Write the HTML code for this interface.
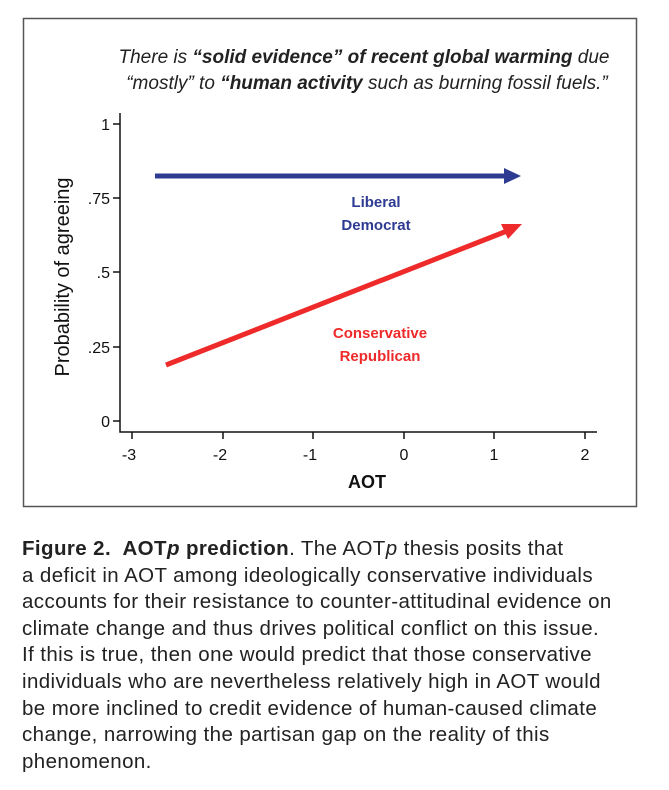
<!DOCTYPE html><html><head><style>
body{margin:0;width:669px;height:790px;background:#fff;overflow:hidden;font-family:"Liberation Sans",sans-serif}
.cap{position:absolute;left:22px;top:536px;font-size:20.5px;letter-spacing:0.4px;line-height:26.6px;color:#222;font-family:"Liberation Sans",sans-serif;white-space:nowrap}
</style></head><body>
<svg width="669" height="530" style="position:absolute;left:0;top:0" font-family="Liberation Sans, sans-serif">
<rect x="23.5" y="18.5" width="613" height="488" fill="none" stroke="#555" stroke-width="1.5"/>
<text x="364" y="63" text-anchor="middle" font-size="19" font-style="italic" fill="#222">There is <tspan font-weight="bold">“solid evidence” of recent global warming</tspan> due</text>
<text x="367" y="89" text-anchor="middle" font-size="19" font-style="italic" fill="#222">“mostly” to <tspan font-weight="bold">“human activity</tspan> such as burning fossil fuels.”</text>
<g stroke="#111" stroke-width="1.5" fill="none">
<path d="M120 113V432H597"/>
<path d="M113 124H120M113 198H120M113 272H120M113 347H120M113 421H120"/>
<path d="M132 432V439M223 432V439M313 432V439M404 432V439M494 432V439M585 432V439"/>
</g>
<g font-size="16" fill="#111" text-anchor="end">
<text x="110" y="130">1</text><text x="110" y="204">.75</text><text x="110" y="278">.5</text><text x="110" y="353">.25</text><text x="110" y="427">0</text>
</g>
<g font-size="16" fill="#111" text-anchor="middle">
<text x="129" y="460">-3</text><text x="220" y="460">-2</text><text x="310" y="460">-1</text><text x="404" y="460">0</text><text x="494" y="460">1</text><text x="585" y="460">2</text>
</g>
<text x="367" y="488" text-anchor="middle" font-size="18" font-weight="bold" fill="#111">AOT</text>
<text transform="translate(69,277) rotate(-90)" text-anchor="middle" font-size="20" fill="#111">Probability of agreeing</text>
<line x1="155" y1="176" x2="506" y2="176" stroke="#2e3b93" stroke-width="5"/>
<polygon points="504,168 521,176 504,184" fill="#2e3b93"/>
<line x1="166" y1="365" x2="507" y2="231" stroke="#ee2a2a" stroke-width="5"/>
<polygon points="501,224 522,224 508,239" fill="#ee2a2a"/>
<g font-size="15" font-weight="bold" text-anchor="middle">
<text x="376" y="207" fill="#2e3b93">Liberal</text><text x="376" y="230" fill="#2e3b93">Democrat</text>
<text x="380" y="338" fill="#ee2a2a">Conservative</text><text x="380" y="361" fill="#ee2a2a">Republican</text>
</g>
</svg>
<div class="cap"><b>Figure 2.&nbsp; AOT<i>p</i> prediction</b>. The AOT<i>p</i> thesis posits that<br>a deficit in AOT among ideologically conservative individuals<br>accounts for their resistance to counter-attitudinal evidence on<br>climate change and thus drives political conflict on this issue.<br>If this is true, then one would predict that those conservative<br>individuals who are nevertheless relatively high in AOT would<br>be more inclined to credit evidence of human-caused climate<br>change, narrowing the partisan gap on the reality of this<br>phenomenon.</div>
</body></html>
